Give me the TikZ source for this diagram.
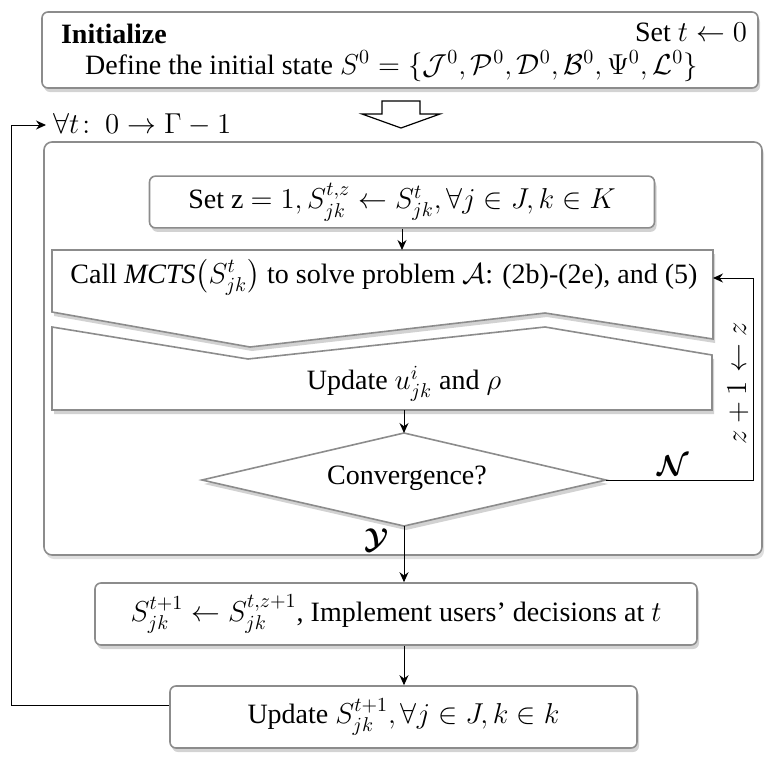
\documentclass[tikz,border=0pt]{standalone}
\usepackage{amsmath,amssymb,bm}
\usepackage{fontspec}
\setmainfont{Liberation Serif}
\usetikzlibrary{arrows.meta,shadows,calc}
\definecolor{boxgray}{HTML}{8C8C8C}
\newcommand{\figfont}{\fontsize{14}{17}\selectfont}

\begin{document}
\begin{tikzpicture}[x=0.5pt,y=-0.5pt,font=\figfont,
  box/.style={draw=boxgray,line width=0.8pt,fill=white,rounded corners=3pt,
    drop shadow={shadow xshift=1pt,shadow yshift=-2pt,opacity=0.35}},
  poly/.style={draw=boxgray,line width=0.8pt,fill=white,
    drop shadow={shadow xshift=1pt,shadow yshift=-2pt,opacity=0.35}},
  flow/.style={-{Stealth[length=5pt,width=4.5pt]},line width=0.5pt}]
\path[use as bounding box] (0,0) rectangle (772,762);
% initialisation
\node[box,minimum width=358pt,minimum height=38pt] (init) at (400,50) {};
\node[anchor=west,font=\figfont\bfseries] (inittitle) at (54,34) {Initialize};
\node[anchor=east] (sett) at (754,32) {Set $t \leftarrow 0$};
\node[anchor=west] (def) at (78,66) {Define the initial state $S^0 = \{\mathcal{J}^0, \mathcal{P}^0, \mathcal{D}^0, \mathcal{B}^0, \Psi^0, \mathcal{L}^0\}$};
\draw[line width=0.6pt,fill=white] (382,101) -- (420,101) -- (420,114) -- (440,114)
  -- (401,128) -- (362,114) -- (382,114) -- cycle;
% time loop
\node[anchor=west] (tlab) at (46,125) {$\forall t\!:\ 0 \rightarrow \Gamma - 1$};
\draw[draw=boxgray,line width=0.8pt,rounded corners=4pt,
  drop shadow={shadow xshift=1pt,shadow yshift=-2pt,opacity=0.25},fill=white] (44,142) rectangle (762,555);
\node[box,minimum width=252.5pt,minimum height=22pt] (setz) at (402,202)
  {Set z $= 1, S_{jk}^{t,z} \leftarrow S_{jk}^{t}, \forall j \in J, k \in K$};
\filldraw[poly] (52,327) -- (248,359) -- (545,327) -- (712,355) -- (712,410) -- (52,410) -- cycle;
\filldraw[poly] (52,250) -- (713,250) -- (713,339) -- (545,313) -- (250,347) -- (52,312) -- cycle;
\coordinate (calltop) at (402,250);
\coordinate (callR) at (713,278);
\coordinate (updbot) at (404,410);
\node (call) at (384,277) {Call $\mathit{MCTS}\big(S_{jk}^t\big)$ to solve problem $\mathcal{A}$: (2b)-(2e), and (5)};
\node (upd) at (404,384) {Update $u_{jk}^i$ and $\rho$};
\filldraw[poly] (404,433) -- (606,480) -- (404,526) -- (202,480) -- cycle;
\coordinate (dtop) at (404,433);
\coordinate (dright) at (606,480);
\coordinate (dbot) at (404,526);
\node (conv) at (407,478) {Convergence?};
\draw[flow] (setz.south) -- (calltop);
\draw[flow] (updbot) -- (dtop);
\draw[flow] (dright) -- ++(147,0) |- (callR);
\node (nlab) at (673,466) {$\bm{\mathcal{N}}$};
\node[rotate=90] (zlab) at (738,383) {$z+1 \leftarrow z$};
\node (ylab) at (377,540) {$\bm{\mathcal{Y}}$};
% after convergence
\node[box,minimum width=301pt,minimum height=31pt] (impl) at (396,614)
  {$S_{jk}^{t+1} \leftarrow S_{jk}^{t,z+1}$, Implement users’ decisions at $t$};
\node[box,minimum width=233.5pt,minimum height=31pt] (fin) at (403.5,717)
  {Update $S_{jk}^{t+1}, \forall j \in J, k \in k$};
\draw[flow] (dbot) -- (dbot |- impl.north);
\draw[flow] (impl.south -| dbot) -- (fin.north -| dbot);
\draw[flow] ([yshift=6pt]fin.west) -- ++(-158,0) |- (tlab.west);
\end{tikzpicture}
\end{document}
